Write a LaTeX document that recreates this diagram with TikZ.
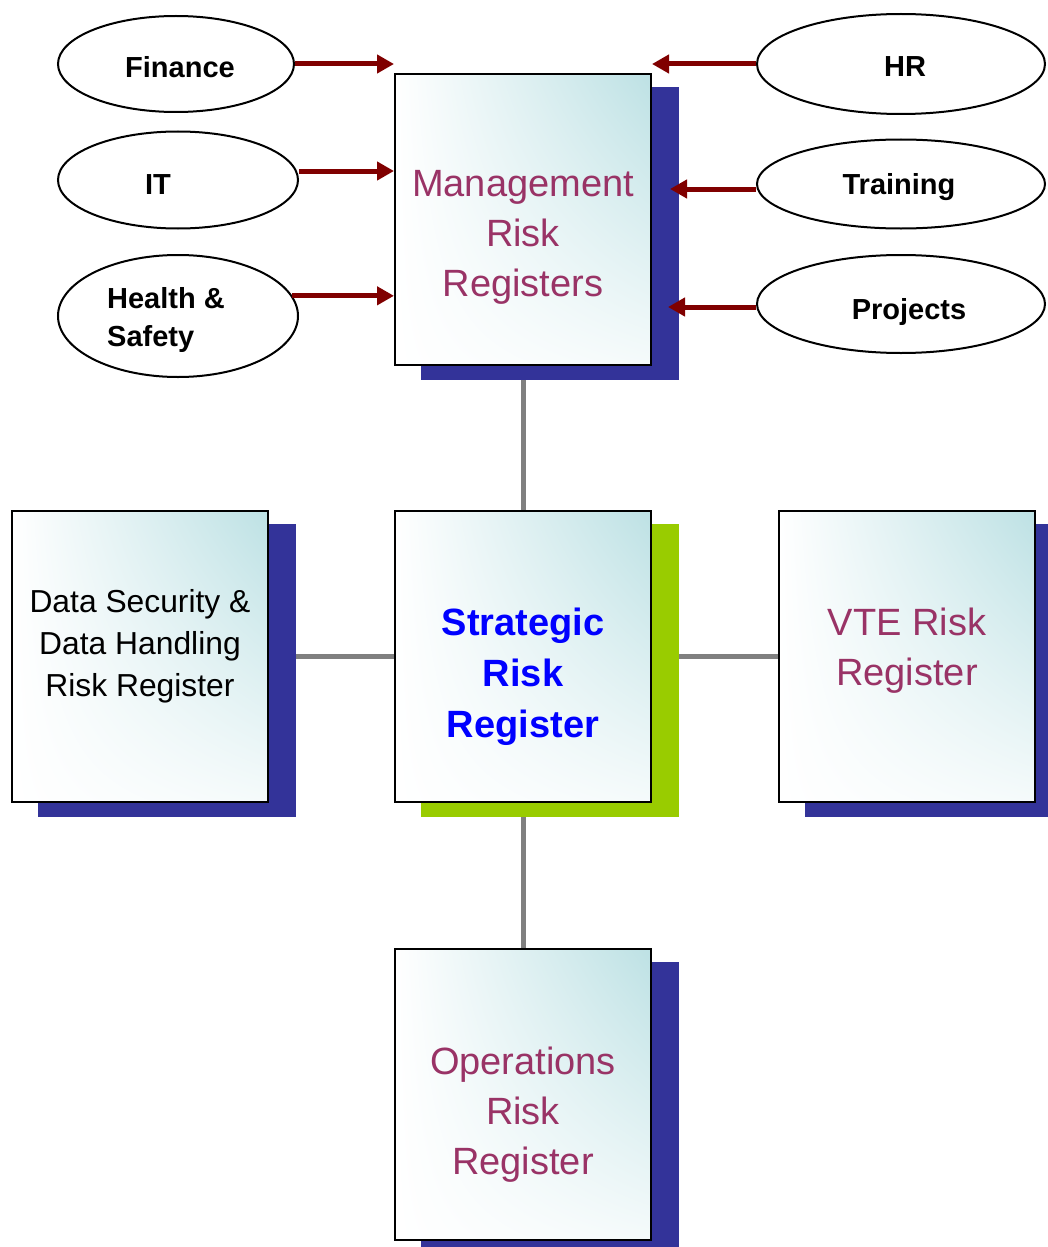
\documentclass[tikz,border=0pt]{standalone}
\usepackage{fontspec}
\setmainfont{Liberation Sans}
\usetikzlibrary{arrows.meta, positioning, shapes.geometric, backgrounds, calc, shadings}

\definecolor{shadownavy}{RGB}{51,51,153}
\definecolor{shadowgreen}{RGB}{153,204,0}
\definecolor{regpink}{RGB}{153,51,102}
\definecolor{feedred}{RGB}{128,0,0}
\definecolor{linkgray}{RGB}{128,128,128}
\definecolor{boxteal}{RGB}{189,225,228}

\begin{document}
\begin{tikzpicture}[x=0.5pt, y=-0.5pt,
        regbox/.style={draw=black, line width=1pt, minimum width=128pt, minimum height=145.5pt,
                       inner sep=0pt, upper right=boxteal, upper left=white,
                       lower left=white, lower right=boxteal!15},
        regtext/.style={align=center, font=\fontsize{19}{25}\selectfont, text=regpink},
        source/.style={ellipse, draw=black, line width=1pt, fill=white, inner sep=0pt},
        srctext/.style={align=left, font=\fontsize{14.5}{19}\selectfont\bfseries},
        feed/.style={-{Triangle[length=8.5pt, width=9pt]}, line width=2.5pt, feedred},
        link/.style={line width=2.5pt, linkgray}]

    \useasboundingbox (0,0) rectangle (1048,1247);

    % Register boxes
    \node[regbox] (mgmt) at (523,219.5) {};
    \node[regbox, below=72pt of mgmt] (strat) {};
    \node[regbox, left=62.5pt of strat] (dsec) {};
    \node[regbox, right=63pt of strat] (vte) {};
    \node[regbox, below=72.5pt of strat] (ops) {};

    % Box texts
    \node[regtext] (mgmt-text) at ([yshift=-8.75pt]mgmt.center) {Management\\Risk\\Registers};
    \node[regtext, text=blue, font=\fontsize{19}{25.5}\selectfont\bfseries] (strat-text)
        at ([yshift=-10pt]strat.center) {Strategic\\Risk\\Register};
    \node[regtext, text=black, font=\fontsize{15.9}{21}\selectfont] (dsec-text)
        at ([yshift=5pt]dsec.center) {Data Security \&\\Data Handling\\Risk Register};
    \node[regtext] (vte-text) at ([yshift=3pt]vte.center) {VTE Risk\\Register};
    \node[regtext] (ops-text) at ([yshift=-10pt]ops.center) {Operations\\Risk\\Register};

    % Feeding departments - left side
    \node[source, minimum width=118pt, minimum height=48pt] (fin) at (176,64) {};
    \node[source, minimum width=120pt, minimum height=48.5pt] (it) at (178,180) {};
    \node[source, minimum width=120pt, minimum height=61pt] (hs) at (178,316) {};

    % Feeding departments - right side
    \node[source, minimum width=144pt, minimum height=50pt] (hr) at (901,64) {};
    \node[source, minimum width=144pt, minimum height=44.5pt] (trn) at (901,184) {};
    \node[source, minimum width=144pt, minimum height=49pt] (prj) at (901,304) {};

    % Department names
    \node[srctext] (fin-text) at ([xshift=2pt, yshift=-1.5pt]fin) {Finance};
    \node[srctext] (it-text) at ([xshift=-10pt, yshift=-2.5pt]it) {IT};
    \node[srctext] (hs-text) at ([xshift=-6pt, yshift=-2pt]hs) {Health \&\\Safety};
    \node[srctext] (hr-text) at ([xshift=2pt, yshift=-1.5pt]hr) {HR};
    \node[srctext] (trn-text) at ([xshift=-1pt, yshift=-1.5pt]trn) {Training};
    \node[srctext] (prj-text) at ([xshift=4pt, yshift=-4pt]prj) {Projects};

    % Arrows into the management registers
    \draw[feed] (fin.east) -- (fin.east -| mgmt.west);
    \draw[feed] ([yshift=4.5pt]it.east) -- ([yshift=4.5pt]it.east -| mgmt.west);
    \draw[feed] (hs.10) -- (hs.10 -| mgmt.west);
    \draw[feed] (hr.west) -- (hr.west -| mgmt.east);
    \draw[feed] ([yshift=-2.5pt]trn.west) -- ([xshift=9pt, yshift=-2.5pt]trn.west -| mgmt.east);
    \draw[feed] ([yshift=-1.5pt]prj.west) -- ([xshift=8pt, yshift=-1.5pt]prj.west -| mgmt.east);

    % Links and shadows behind the boxes
    \begin{scope}[on background layer]
        \draw[link] (mgmt) -- (strat);
        \draw[link] (strat) -- (ops);
        \draw[link] (dsec) -- (strat);
        \draw[link] (strat) -- (vte);
        \foreach \reg/\tone in {mgmt/shadownavy, strat/shadowgreen, dsec/shadownavy,
                                vte/shadownavy, ops/shadownavy}
            \fill[\tone] ([xshift=13.5pt, yshift=-7pt]\reg.south west)
                rectangle ([xshift=13.5pt, yshift=-7pt]\reg.north east);
    \end{scope}
\end{tikzpicture}
\end{document}
